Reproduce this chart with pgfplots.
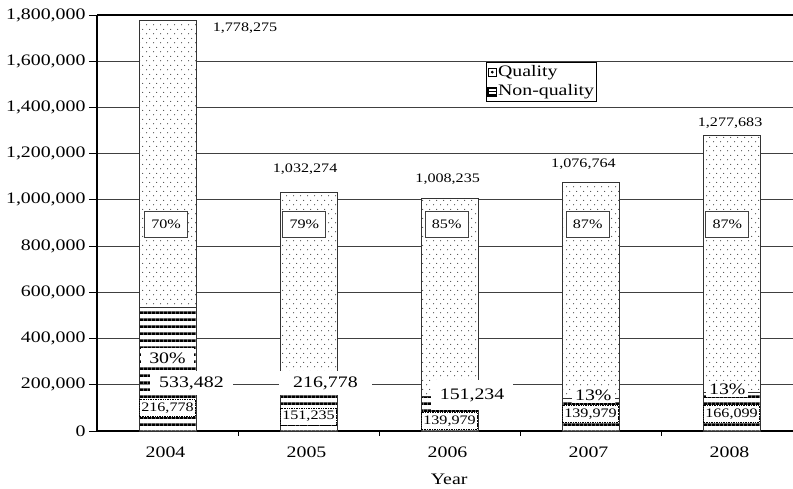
\documentclass[border=0pt]{standalone}
\usepackage{fontspec}
\setmainfont{Liberation Serif}[FakeStretch=1.24]
\usepackage{pgfplots}
\pgfplotsset{compat=1.18}
\usetikzlibrary{patterns}

% staggered dot fill on white for the quality share
\pgfdeclarepatterninherentlycolored{qdots}{\pgfqpoint{0pt}{0pt}}{\pgfqpoint{6.6pt}{9.4pt}}{\pgfqpoint{6.6pt}{9.4pt}}{%
  \pgfsetfillcolor{white}%
  \pgfpathrectangle{\pgfqpoint{-0.1pt}{-0.1pt}}{\pgfqpoint{6.8pt}{9.6pt}}%
  \pgfusepath{fill}%
  \pgfsetfillcolor{black}%
  \pgfpathcircle{\pgfqpoint{1.65pt}{2.35pt}}{0.55pt}%
  \pgfpathcircle{\pgfqpoint{4.95pt}{7.05pt}}{0.55pt}%
  \pgfusepath{fill}}
% horizontal stripes on white for the non-quality share
\pgfdeclarepatterninherentlycolored{hstripes}{\pgfqpoint{0pt}{0pt}}{\pgfqpoint{4pt}{7pt}}{\pgfqpoint{4pt}{7pt}}{%
  \pgfsetfillcolor{white}%
  \pgfpathrectangle{\pgfqpoint{-0.1pt}{-0.1pt}}{\pgfqpoint{4.2pt}{7.2pt}}%
  \pgfusepath{fill}%
  \pgfsetfillcolor{black}%
  \pgfpathrectangle{\pgfqpoint{-0.1pt}{0pt}}{\pgfqpoint{4.2pt}{3pt}}%
  \pgfusepath{fill}}

\tikzset{
  plainlbl/.style={fill=white, inner xsep=9pt, inner ysep=2pt, minimum height=24pt,
    font=\fontsize{16}{18}\selectfont},
  pctlbl/.style={fill=white, draw=black!75, line width=0.7pt, minimum width=43pt,
    minimum height=26pt, inner sep=1pt, font=\fontsize{13}{15}\selectfont},
  dotlbl/.style={fill=white, draw=black, densely dotted, line width=0.7pt, inner xsep=1.5pt,
    inner ysep=1pt, minimum height=17pt, font=\fontsize{13}{15}\selectfont},
  totlbl/.style={inner sep=0pt, font=\fontsize{13}{15}\selectfont},
}

\begin{document}
\begin{tikzpicture}
\begin{axis}[
  name=ax,
  set layers,
  scale only axis,
  width=696pt, height=416pt,
  ybar stacked,
  bar width=57pt,
  xmin=-0.5, xmax=4.436,
  ymin=0, ymax=1800000,
  axis x line*=bottom, axis y line*=left,
  axis line style={black, line width=1.3pt},
  xtick={0,1,2,3,4},
  xticklabels={2004,2005,2006,2007,2008},
  minor xtick={0.5,1.5,2.5,3.5},
  major x tick style={draw=none},
  minor x tick style={black, line width=0.8pt},
  minor tick length=5pt,
  ytick={0,200000,...,1800000},
  major y tick style={black, line width=0.8pt},
  major tick length=8pt,
  tick align=outside,
  scaled y ticks=false,
  yticklabel style={/pgf/number format/.cd, fixed, precision=0, 1000 sep={,}},
  /pgf/number format/assume math mode=true,
  tick label style={font=\fontsize{16}{18}\selectfont},
  x tick label style={yshift=-4pt, xshift=-2pt},
  ymajorgrids,
  grid style={black!75, line width=0.8pt},
  xlabel={Year},
  xlabel style={font=\fontsize{16}{18}\selectfont, at={(rel axis cs:0.506,0)}, anchor=base, yshift=-54pt},
  legend cell align=left,
  legend style={at={(rel axis cs:0.559,0.887)}, anchor=north west,
    draw=black, line width=0.7pt, inner xsep=1pt, inner ysep=0pt,
    font=\fontsize{16}{16}\selectfont,
    nodes={text height=12pt, text depth=3pt, inner xsep=1pt, inner ysep=2.2pt}},
]
% non-quality share (bottom of each stack)
\addplot[forget plot, on layer=pre main, draw=black!80, line width=0.7pt, pattern=hstripes]
  coordinates {(0,533482) (1,216778) (2,151234) (3,139979) (4,166099)};
% quality share (top of each stack)
\addplot[forget plot, on layer=pre main, draw=black!80, line width=0.7pt, pattern=qdots]
  coordinates {(0,1244793) (1,815496) (2,857001) (3,936785) (4,1111584)};

\addlegendimage{legend image code/.code={%
    \draw[black, line width=0.7pt] (0.35pt,-4.2pt) rectangle (8.65pt,4.2pt);
    \fill[black] (4.5pt,0pt) circle (1pt);}}
\addlegendentry{Quality}
\addlegendimage{legend image code/.code={%
    \fill[black] (0pt,-4.5pt) rectangle (9pt,4.5pt);
    \fill[white] (1.1pt,-2.1pt) rectangle (7.9pt,-1pt);
    \fill[white] (1.1pt,1pt) rectangle (7.9pt,2.1pt);}}
\addlegendentry{Non-quality}

% top frame line
\draw[black, line width=2pt] (rel axis cs:0,1) -- (rel axis cs:1,1);

% totals
\node[totlbl] at (axis cs:0.55,1743800) {1,778,275};
\node[totlbl] at (axis cs:0.976,1133700) {1,032,274};
\node[totlbl] at (axis cs:1.987,1090400) {1,008,235};
\node[totlbl] at (axis cs:2.95,1155300) {1,076,764};
\node[totlbl] at (axis cs:3.99,1332700) {1,277,683};

% quality shares
\node[pctlbl] at (axis cs:-0.01,895700) {70\%};
\node[pctlbl] at (axis cs:0.97,895700) {79\%};
\node[pctlbl] at (axis cs:1.98,895700) {85\%};
\node[pctlbl] at (axis cs:2.98,895700) {87\%};
\node[pctlbl] at (axis cs:3.97,895700) {87\%};

% non-quality labels
\node[plainlbl, minimum height=19pt, inner xsep=8pt] at (axis cs:0,315900) {30\%};
\node[plainlbl] at (axis cs:0.17,207700) {533,482};
\node[dotlbl] at (axis cs:0,99500) {216,778};

\node[plainlbl, inner xsep=14pt] at (axis cs:1.12,207700) {216,778};
\node[dotlbl] at (axis cs:1,63000) {151,235};

\node[plainlbl, minimum height=30pt] at (axis cs:2.16,155800) {151,234};
\node[dotlbl] at (axis cs:2,43000) {139,979};

\node[plainlbl, minimum height=16pt, inner xsep=3pt] at (axis cs:3.02,155800) {13\%};
\node[dotlbl] at (axis cs:3,73600) {139,979};

\node[plainlbl, minimum height=16pt, inner xsep=3pt] at (axis cs:3.97,179600) {13\%};
\node[dotlbl] at (axis cs:4,73600) {166,099};
\end{axis}
\pgfresetboundingbox
\path[use as bounding box] ([xshift=-97pt,yshift=-58pt]ax.south west) rectangle ([yshift=15pt]ax.north east);
\end{tikzpicture}
\end{document}
